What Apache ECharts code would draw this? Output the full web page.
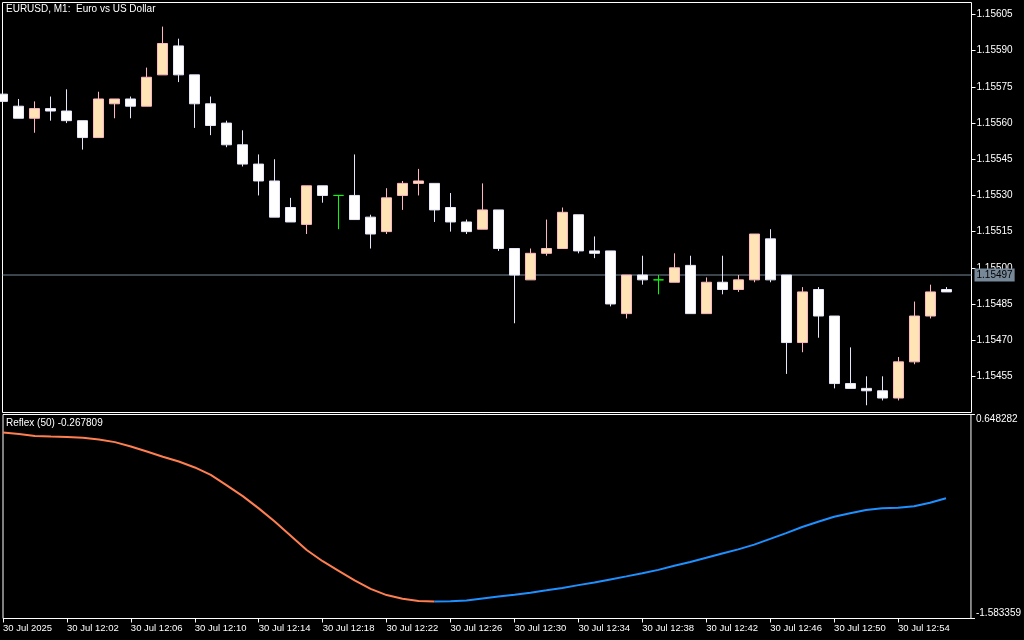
<!DOCTYPE html>
<html><head><meta charset="utf-8">
<style>html,body{margin:0;padding:0;background:#000;}#c{width:1024px;height:640px;}</style>
<script src="https://cdn.jsdelivr.net/npm/echarts@6.0.0/dist/echarts.min.js"></script>
</head><body><div id="c"></div>
<script>
const chartTitle = 'EURUSD, M1:  Euro vs US Dollar';
const indicatorName = 'Reflex (50)';
const times = ['11:58','11:59','12:00','12:01','12:02','12:03','12:04','12:05','12:06','12:07',
  '12:08','12:09','12:10','12:11','12:12','12:13','12:14','12:15','12:16','12:17',
  '12:18','12:19','12:20','12:21','12:22','12:23','12:24','12:25','12:26','12:27',
  '12:28','12:29','12:30','12:31','12:32','12:33','12:34','12:35','12:36','12:37',
  '12:38','12:39','12:40','12:41','12:42','12:43','12:44','12:45','12:46','12:47',
  '12:48','12:49','12:50','12:51','12:52','12:53','12:54','12:55','12:56','12:57'];
const open = [1.15572,1.15567,1.15562,1.15566,1.15565,1.15561,1.15554,1.15568,1.15570,1.15567,
  1.15580,1.15592,1.15580,1.15568,1.15560,1.15551,1.15543,1.15536,1.15525,1.15518,
  1.15534,1.15530,1.15530,1.15521,1.15515,1.15530,1.15535,1.15535,1.15525,1.15519,
  1.15516,1.15524,1.15508,1.15495,1.15506,1.15508,1.15522,1.15507,1.15507,1.15481,
  1.15497,1.15495,1.15494,1.15501,1.15481,1.15494,1.15491,1.15495,1.15512,1.15497,
  1.15469,1.15491,1.15480,1.15452,1.15450,1.15449,1.15446,1.15461,1.15480,1.15491];
const high = [1.15572,1.15570,1.15569,1.15571,1.15574,1.15561,1.15573,1.15570,1.15571,1.15583,
  1.15600,1.15595,1.15580,1.15571,1.15561,1.15557,1.15547,1.15545,1.15529,1.15534,
  1.15534,1.15530,1.15547,1.15522,1.15533,1.15536,1.15541,1.15535,1.15531,1.15520,
  1.15535,1.15524,1.15508,1.15508,1.15520,1.15525,1.15522,1.15513,1.15507,1.15497,
  1.15505,1.15497,1.15506,1.15505,1.15496,1.15505,1.15497,1.15514,1.15516,1.15497,
  1.15492,1.15492,1.15480,1.15467,1.15455,1.15455,1.15463,1.15486,1.15493,1.15492];
const low = [1.15569,1.15562,1.15556,1.15561,1.15560,1.15549,1.15554,1.15562,1.15562,1.15567,
  1.15580,1.15577,1.15558,1.15555,1.15550,1.15542,1.15530,1.15521,1.15519,1.15514,
  1.15527,1.15516,1.15520,1.15508,1.15514,1.15524,1.15530,1.15519,1.15515,1.15514,
  1.15516,1.15507,1.15477,1.15495,1.15505,1.15508,1.15506,1.15504,1.15484,1.15479,
  1.15493,1.15489,1.15494,1.15481,1.15481,1.15489,1.15490,1.15494,1.15494,1.15456,
  1.15465,1.15471,1.15450,1.15450,1.15443,1.15445,1.15445,1.15460,1.15479,1.15490];
const close = [1.15569,1.15562,1.15566,1.15565,1.15561,1.15554,1.15570,1.15570,1.15567,1.15579,
  1.15593,1.15580,1.15568,1.15559,1.15551,1.15543,1.15536,1.15521,1.15519,1.15534,
  1.15530,1.15530,1.15520,1.15514,1.15529,1.15535,1.15536,1.15524,1.15519,1.15515,
  1.15524,1.15508,1.15497,1.15506,1.15508,1.15523,1.15507,1.15506,1.15485,1.15497,
  1.15495,1.15495,1.15500,1.15481,1.15494,1.15491,1.15495,1.15514,1.15495,1.15469,
  1.15490,1.15480,1.15452,1.15450,1.15449,1.15446,1.15461,1.15480,1.15490,1.15490];
const reflex = [0.4504,0.4339,0.4141,0.4064,0.4032,0.3933,0.3757,0.3460,0.2987,0.2437,
  0.1855,0.1338,0.0690,-0.0124,-0.1267,-0.2443,-0.3785,-0.5225,-0.6775,-0.8336,
  -0.9567,-1.0612,-1.1656,-1.2590,-1.3272,-1.3668,-1.3910,-1.3975,-1.3955,-1.3854,
  -1.3635,-1.3415,-1.3228,-1.3008,-1.2755,-1.2491,-1.2183,-1.1898,-1.1557,-1.1227,
  -1.0886,-1.0513,-1.0062,-0.9644,-0.9193,-0.8721,-0.8270,-0.7753,-0.7127,-0.6489,
  -0.5818,-0.5258,-0.4708,-0.4312,-0.3972,-0.3785,-0.3708,-0.3554,-0.3169,-0.267809];
const priceTicks = [1.15455,1.15470,1.15485,1.15500,1.15515,1.15530,1.15545,1.15560,1.15575,1.15590,1.15605];
const priceRange = [1.15440, 1.15610];
const reflexRange = [-1.583359, 0.648282];
const lastPrice = 1.15497;
const xTickIndex = [0,4,8,12,16,20,24,28,32,36,40,44,48,52,56];
const xTickText = ['30 Jul 2025','30 Jul 12:02','30 Jul 12:06','30 Jul 12:10','30 Jul 12:14','30 Jul 12:18',
  '30 Jul 12:22','30 Jul 12:26','30 Jul 12:30','30 Jul 12:34','30 Jul 12:38','30 Jul 12:42',
  '30 Jul 12:46','30 Jul 12:50','30 Jul 12:54'];

const FONT = 'Liberation Sans';
const n = times.length;
const candleData = open.map((o, i) => [i, o, close[i], low[i], high[i]]);
const falling = reflex.map((v, i) => ((i > 0 && v < reflex[i - 1]) || (i < n - 1 && reflex[i + 1] < v)) ? [i, v] : [i, null]);
const rising = reflex.map((v, i) => ((i > 0 && v > reflex[i - 1]) || (i < n - 1 && reflex[i + 1] > v)) ? [i, v] : [i, null]);

const X_MAX = 60.5625;
const xRange = [0, X_MAX];
const priceLine = xRange.map(x => [x, lastPrice]);

const chart = echarts.init(document.getElementById('c'), null, {renderer: 'canvas'});
chart.setOption({
  backgroundColor: '#000',
  animation: false,
  title: [
    {text: chartTitle, left: 6, top: 4, padding: 0,
     textStyle: {color: '#fff', fontSize: 10, fontWeight: 'normal', fontFamily: FONT}},
    {text: indicatorName + ' ' + reflex[n - 1].toFixed(6), left: 6, top: 418, padding: 0,
     textStyle: {color: '#fff', fontSize: 10, fontWeight: 'normal', fontFamily: FONT}}
  ],
  grid: [
    {left: 2.5, top: 2.5, width: 969, height: 410, show: true, borderColor: '#fff', borderWidth: 1, backgroundColor: '#000'},
    {left: 2.5, top: 414.5, width: 969, height: 204, show: true, borderColor: '#fff', borderWidth: 1, backgroundColor: '#000'}
  ],
  xAxis: [
    {type: 'value', gridIndex: 0, min: xRange[0], max: xRange[1], show: false},
    {type: 'value', gridIndex: 1, min: xRange[0], max: xRange[1], position: 'bottom',
     axisLine: {show: false, onZero: false}, splitLine: {show: false},
     axisTick: {show: true, length: 4, customValues: xTickIndex, lineStyle: {color: '#fff'}},
     axisLabel: {show: true, customValues: xTickIndex, align: 'left', margin: 5, color: '#fff',
       fontSize: 9.5, fontFamily: FONT,
       formatter: v => { const k = xTickIndex.indexOf(Math.round(v)); return k >= 0 ? xTickText[k] : ''; }}}
  ],
  yAxis: [
    {type: 'value', gridIndex: 0, position: 'right', min: priceRange[0], max: priceRange[1], scale: true,
     axisLine: {show: false, onZero: false}, splitLine: {show: false},
     axisTick: {show: true, length: 4, customValues: priceTicks, lineStyle: {color: '#fff'}},
     axisLabel: {show: true, customValues: priceTicks, margin: 5, color: '#fff', fontSize: 10, fontFamily: FONT,
       formatter: v => v.toFixed(5)}},
    {type: 'value', gridIndex: 1, position: 'right', min: reflexRange[0], max: reflexRange[1], scale: true,
     axisLine: {show: false, onZero: false}, splitLine: {show: false},
     axisTick: {show: true, length: 4, customValues: reflexRange, lineStyle: {color: '#fff'}},
     axisLabel: {show: true, customValues: reflexRange, margin: 5, color: '#fff', fontSize: 10, fontFamily: FONT,
       verticalAlignMinLabel: 'bottom', verticalAlignMaxLabel: 'top',
       formatter: v => v.toFixed(6)}}
  ],
  series: [
    {type: 'line', xAxisIndex: 0, yAxisIndex: 0, data: priceLine, symbol: 'none', showSymbol: false,
     silent: true, clip: false, z: 1,
     lineStyle: {color: '#778899', width: 1},
     endLabel: {show: true, distance: 3, formatter: () => lastPrice.toFixed(5),
       backgroundColor: '#778899', color: '#000', padding: [2, 2, 1, 2], fontSize: 10, fontFamily: FONT}},
    {type: 'candlestick', xAxisIndex: 0, yAxisIndex: 0, data: candleData, z: 2,
     encode: {x: 0, y: [1, 2, 3, 4]}, barWidth: 10, clip: true,
     itemStyle: {color: '#FFE4B5', color0: '#FFFFFF', borderColor: '#FFB6C1', borderColor0: '#E6E6FA',
       borderColorDoji: '#00FF00', borderWidth: 1}},
    {type: 'line', xAxisIndex: 1, yAxisIndex: 1, data: falling, showSymbol: false, symbol: 'none',
     connectNulls: false, lineStyle: {color: '#FF7F50', width: 2}},
    {type: 'line', xAxisIndex: 1, yAxisIndex: 1, data: rising, showSymbol: false, symbol: 'none',
     connectNulls: false, lineStyle: {color: '#1E90FF', width: 2}}
  ]
});
</script>
</body></html>
